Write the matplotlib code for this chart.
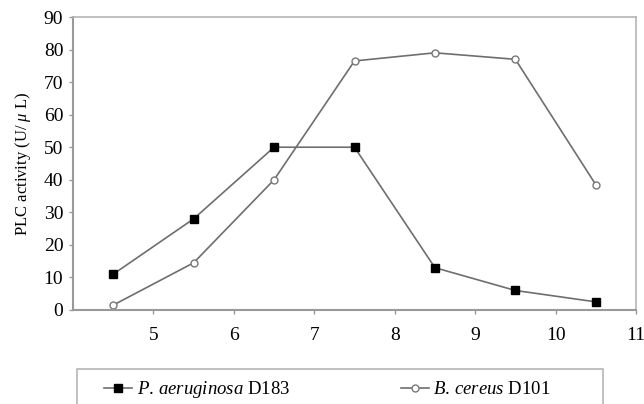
import matplotlib
matplotlib.use("Agg")
import matplotlib.pyplot as plt
import matplotlib.patches as patches

plt.rcParams['font.family'] = ['Liberation Serif', 'DejaVu Serif']
plt.rcParams['mathtext.fontset'] = 'custom'
plt.rcParams['mathtext.rm'] = 'Liberation Serif'
plt.rcParams['mathtext.it'] = 'Liberation Serif:italic'

# pH values and PLC activity
ph = [4.5, 5.5, 6.5, 7.5, 8.5, 9.5, 10.5]
p_aeruginosa = [11, 28, 50, 50, 13, 6, 2.5]
b_cereus = [1.5, 14.5, 40, 76.5, 79, 77, 38.5]
x_ticks = [5, 6, 7, 8, 9, 10, 11]
y_ticks = [0, 10, 20, 30, 40, 50, 60, 70, 80, 90]

fig = plt.figure(figsize=(6.44, 4.04), dpi=100)
ax = fig.add_axes([73 / 644, 1 - 310 / 404, (636 - 73) / 644, (310 - 17) / 404])

line_col = "#6e6e6e"
l1, = ax.plot(ph, p_aeruginosa, color=line_col, lw=1.2, marker="s", ms=6,
              mfc="black", mec="black", label=r"$\mathit{P.\,aeruginosa}$ D183")
l2, = ax.plot(ph, b_cereus, color=line_col, lw=1.2, marker="o", ms=5,
              mfc="white", mec="#777777", mew=1.0, label=r"$\mathit{B.\,cereus}$ D101")

ax.set_xlim(4, 11)
ax.set_ylim(0, 90)
ax.set_xticks(x_ticks)
ax.set_yticks(y_ticks)
ax.tick_params(axis="both", colors="#999999", labelcolor="black", labelsize=14,
               length=3, width=1)
ax.tick_params(axis="x", pad=9)
ax.tick_params(axis="y", pad=4)

for side in ["left", "bottom"]:
    ax.spines[side].set_color("#999999")
    ax.spines[side].set_linewidth(1.5)
for side in ["top", "right"]:
    ax.spines[side].set_color("#b5b5b5")
    ax.spines[side].set_linewidth(1.2)

ax.set_ylabel(r"PLC activity (U/ $\mu$ L)", fontsize=12, labelpad=8)

# legend box, runs off the bottom of the figure
fig.patches.append(patches.Rectangle((77 / 644, -0.05), (603 - 77) / 644, 0.05 + 35 / 404,
                                     transform=fig.transFigure, fill=False,
                                     edgecolor="#b5b5b5", linewidth=1.2))
fig.legend(handles=[l1, l2], loc="center left", bbox_to_anchor=(104 / 644, 14 / 404),
           ncol=2, frameon=False, fontsize=13.5, handlelength=1.5, handletextpad=0.25,
           columnspacing=5.9, borderpad=0, borderaxespad=0)

fig.savefig("out.png", dpi=100)
